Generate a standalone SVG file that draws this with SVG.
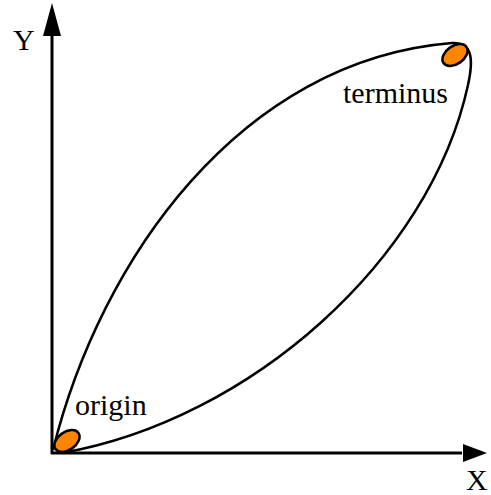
<svg xmlns="http://www.w3.org/2000/svg" width="491" height="495" viewBox="0 0 491 495">
<style>
.ax{stroke:#000;stroke-width:3;fill:none}
.cv{stroke:#000;stroke-width:2.5;fill:none}
.pt{fill:#ff8400;stroke:#000;stroke-width:2.5}
.lb{font-family:'Liberation Serif','Times New Roman',serif;font-size:30px;fill:#000}
</style>
<rect width="491" height="495" fill="#fff"/>
<g id="connectors">
<path class="ax" d="M52,454 V30"/>
<polygon points="52,3 43,36 61,36" fill="#000"/>
<path class="ax" d="M51,453 H462"/>
<polygon points="487,453 463,444 463,462" fill="#000"/>
<path id="lens" class="cv" d="M53,450 C100,260 240,60 452,43 C472,42 474,58 468,85 C430,260 250,420 62,453"/>
</g>
<g id="origin"><ellipse class="pt" cx="67" cy="441" rx="14" ry="9" transform="rotate(-35 67 441)"/><text class="lb" x="75" y="415">origin</text></g>
<g id="terminus"><ellipse class="pt" cx="455" cy="55" rx="14" ry="9" transform="rotate(-35 455 55)"/><text class="lb" x="343" y="103">terminus</text></g>
<g id="Y"><text class="lb" x="13" y="50">Y</text></g>
<g id="X"><text class="lb" x="466" y="490">X</text></g>
</svg>
